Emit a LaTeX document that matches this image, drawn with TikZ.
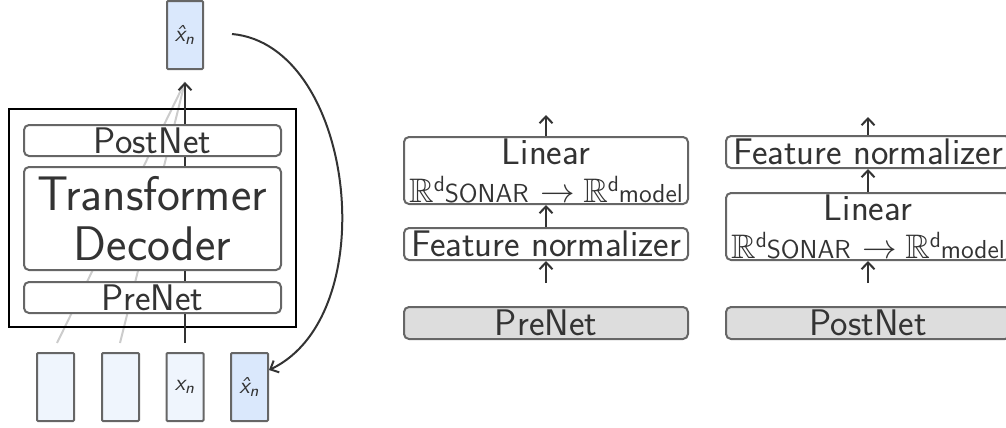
\documentclass[tikz,border=0pt]{standalone}
\usepackage{amssymb}
\usetikzlibrary{arrows.meta,backgrounds}
\definecolor{boxedge}{HTML}{666666}
\definecolor{inktext}{HTML}{333333}
\definecolor{tokfill}{HTML}{EFF5FD}
\definecolor{predfill}{HTML}{DAE8FC}
\definecolor{netgray}{HTML}{DDDDDD}
\definecolor{pastgray}{HTML}{CCCCCC}
\tikzset{
  block/.style={draw=boxedge,line width=1pt,rounded corners=2.5pt,
    fill=white,text=inktext,inner sep=0pt,align=center,
    font=\sffamily\fontsize{18.5}{22}\selectfont},
  token/.style={draw=boxedge,line width=1pt,rounded corners=0.5pt,
    fill=tokfill,text=inktext,inner sep=0pt,
    minimum width=18.5pt,minimum height=34pt,
    font=\sffamily\fontsize{11.5}{13}\selectfont},
  flow/.style={-{Straight Barb[length=3.4pt,width=6.5pt]},
    line width=1pt,draw=inktext},
  wire/.style={line width=1pt,draw=inktext},
}
\newcommand{\tokx}{{\slshape x\textsubscript{n}}}
\newcommand{\tokxhat}{{\slshape\^{x}\textsubscript{n}}}
% R^{d_name} with the name set almost on the baseline
\newcommand{\realdim}[1]{{\fontsize{17}{19}\selectfont$\mathbb{R}$}%
  \raisebox{5.5pt}{\fontsize{11}{12}\selectfont d}%
  {\fontsize{13}{14}\selectfont #1}}
\newcommand{\sonarmap}{{\realdim{SONAR}\hspace{6pt}%
  {\fontsize{17}{19}\selectfont$\rightarrow$}\hspace{4pt}\realdim{model}}}

\begin{document}
\begin{tikzpicture}[x=0.5pt,y=-0.5pt]
\useasboundingbox (0,0) rectangle (1006,428);

% decoder stack
\node[draw=black,line width=0.8pt,minimum width=143.5pt,minimum height=109pt]
  (lcm) at (152.5,218) {};
\node[block,minimum width=128.5pt,minimum height=15.5pt] (postnet)
  at (152.5,140.5) {PostNet};
\node[block,minimum width=128.5pt,minimum height=51.5pt,
      font=\sffamily\fontsize{24.3}{25}\selectfont] (decoder)
  at (152.5,218.5) {Transformer\\Decoder};
\node[block,minimum width=128.5pt,minimum height=15.5pt] (prenet)
  at (152.5,297.5) {PreNet};

% output and input tokens
\node[token,fill=predfill,minimum width=18pt] (out) at (185,35) {\tokxhat};
\node[token] (tok1) at (55.5,387) {};
\node[token] (tok2) at (120.5,387) {};
\node[token] (tok3) at (185,387) {\tokx};
\node[token,fill=predfill] (tok4) at (249.5,387) {\tokxhat};

\coordinate (feed1) at (57,343);
\coordinate (feed2) at (120,343);
\coordinate (feed3) at (185,343);
\coordinate (head) at (185,82);
\coordinate (loop) at (232,34);

\begin{scope}[on background layer]
  \draw[pastgray,line width=1pt] (feed1) -- (head);
  \draw[pastgray,line width=1pt] (feed2) -- (head);
\end{scope}
\draw[wire] (feed3) -- (feed3 |- prenet.south);
\draw[wire] (feed3 |- prenet.north) -- (feed3 |- decoder.south);
\draw[wire] (feed3 |- decoder.north) -- (feed3 |- postnet.south);
\draw[flow] (feed3 |- postnet.north) -- (head);

% autoregressive feedback
\draw[flow] (loop) .. controls (355,45) and (385,315) .. ([yshift=8.5pt]tok4.east);

% PreNet internals
\node[block,minimum width=142pt,minimum height=16pt,fill=netgray]
  (pre) at (546,323) {PreNet};
\node[block,minimum width=142pt,minimum height=16pt] (prenorm)
  at (546,244) {Feature normalizer};
\node[block,minimum width=142pt,minimum height=33.5pt] (prelin)
  at (546,170.5) {Linear\\[-3pt]\sonarmap};
\coordinate (prein) at (546,283);
\coordinate (preout) at (546,115);
\draw[flow] (prein) -- (prenorm.south);
\draw[flow] (prenorm.north) -- (prelin.south);
\draw[flow] (prelin.north) -- (preout);

% PostNet internals
\node[block,minimum width=142pt,minimum height=16pt,fill=netgray]
  (post) at (868,323) {PostNet};
\node[block,minimum width=142pt,minimum height=33.5pt] (postlin)
  at (868,226.5) {Linear\\[-3pt]\sonarmap};
\node[block,minimum width=142pt,minimum height=16pt] (postnorm)
  at (868,152) {Feature normalizer};
\coordinate (postin) at (868,283);
\coordinate (postout) at (868,117);
\draw[flow] (postin) -- (postlin.south);
\draw[flow] (postlin.north) -- (postnorm.south);
\draw[flow] (postnorm.north) -- (postout);
\end{tikzpicture}
\end{document}
